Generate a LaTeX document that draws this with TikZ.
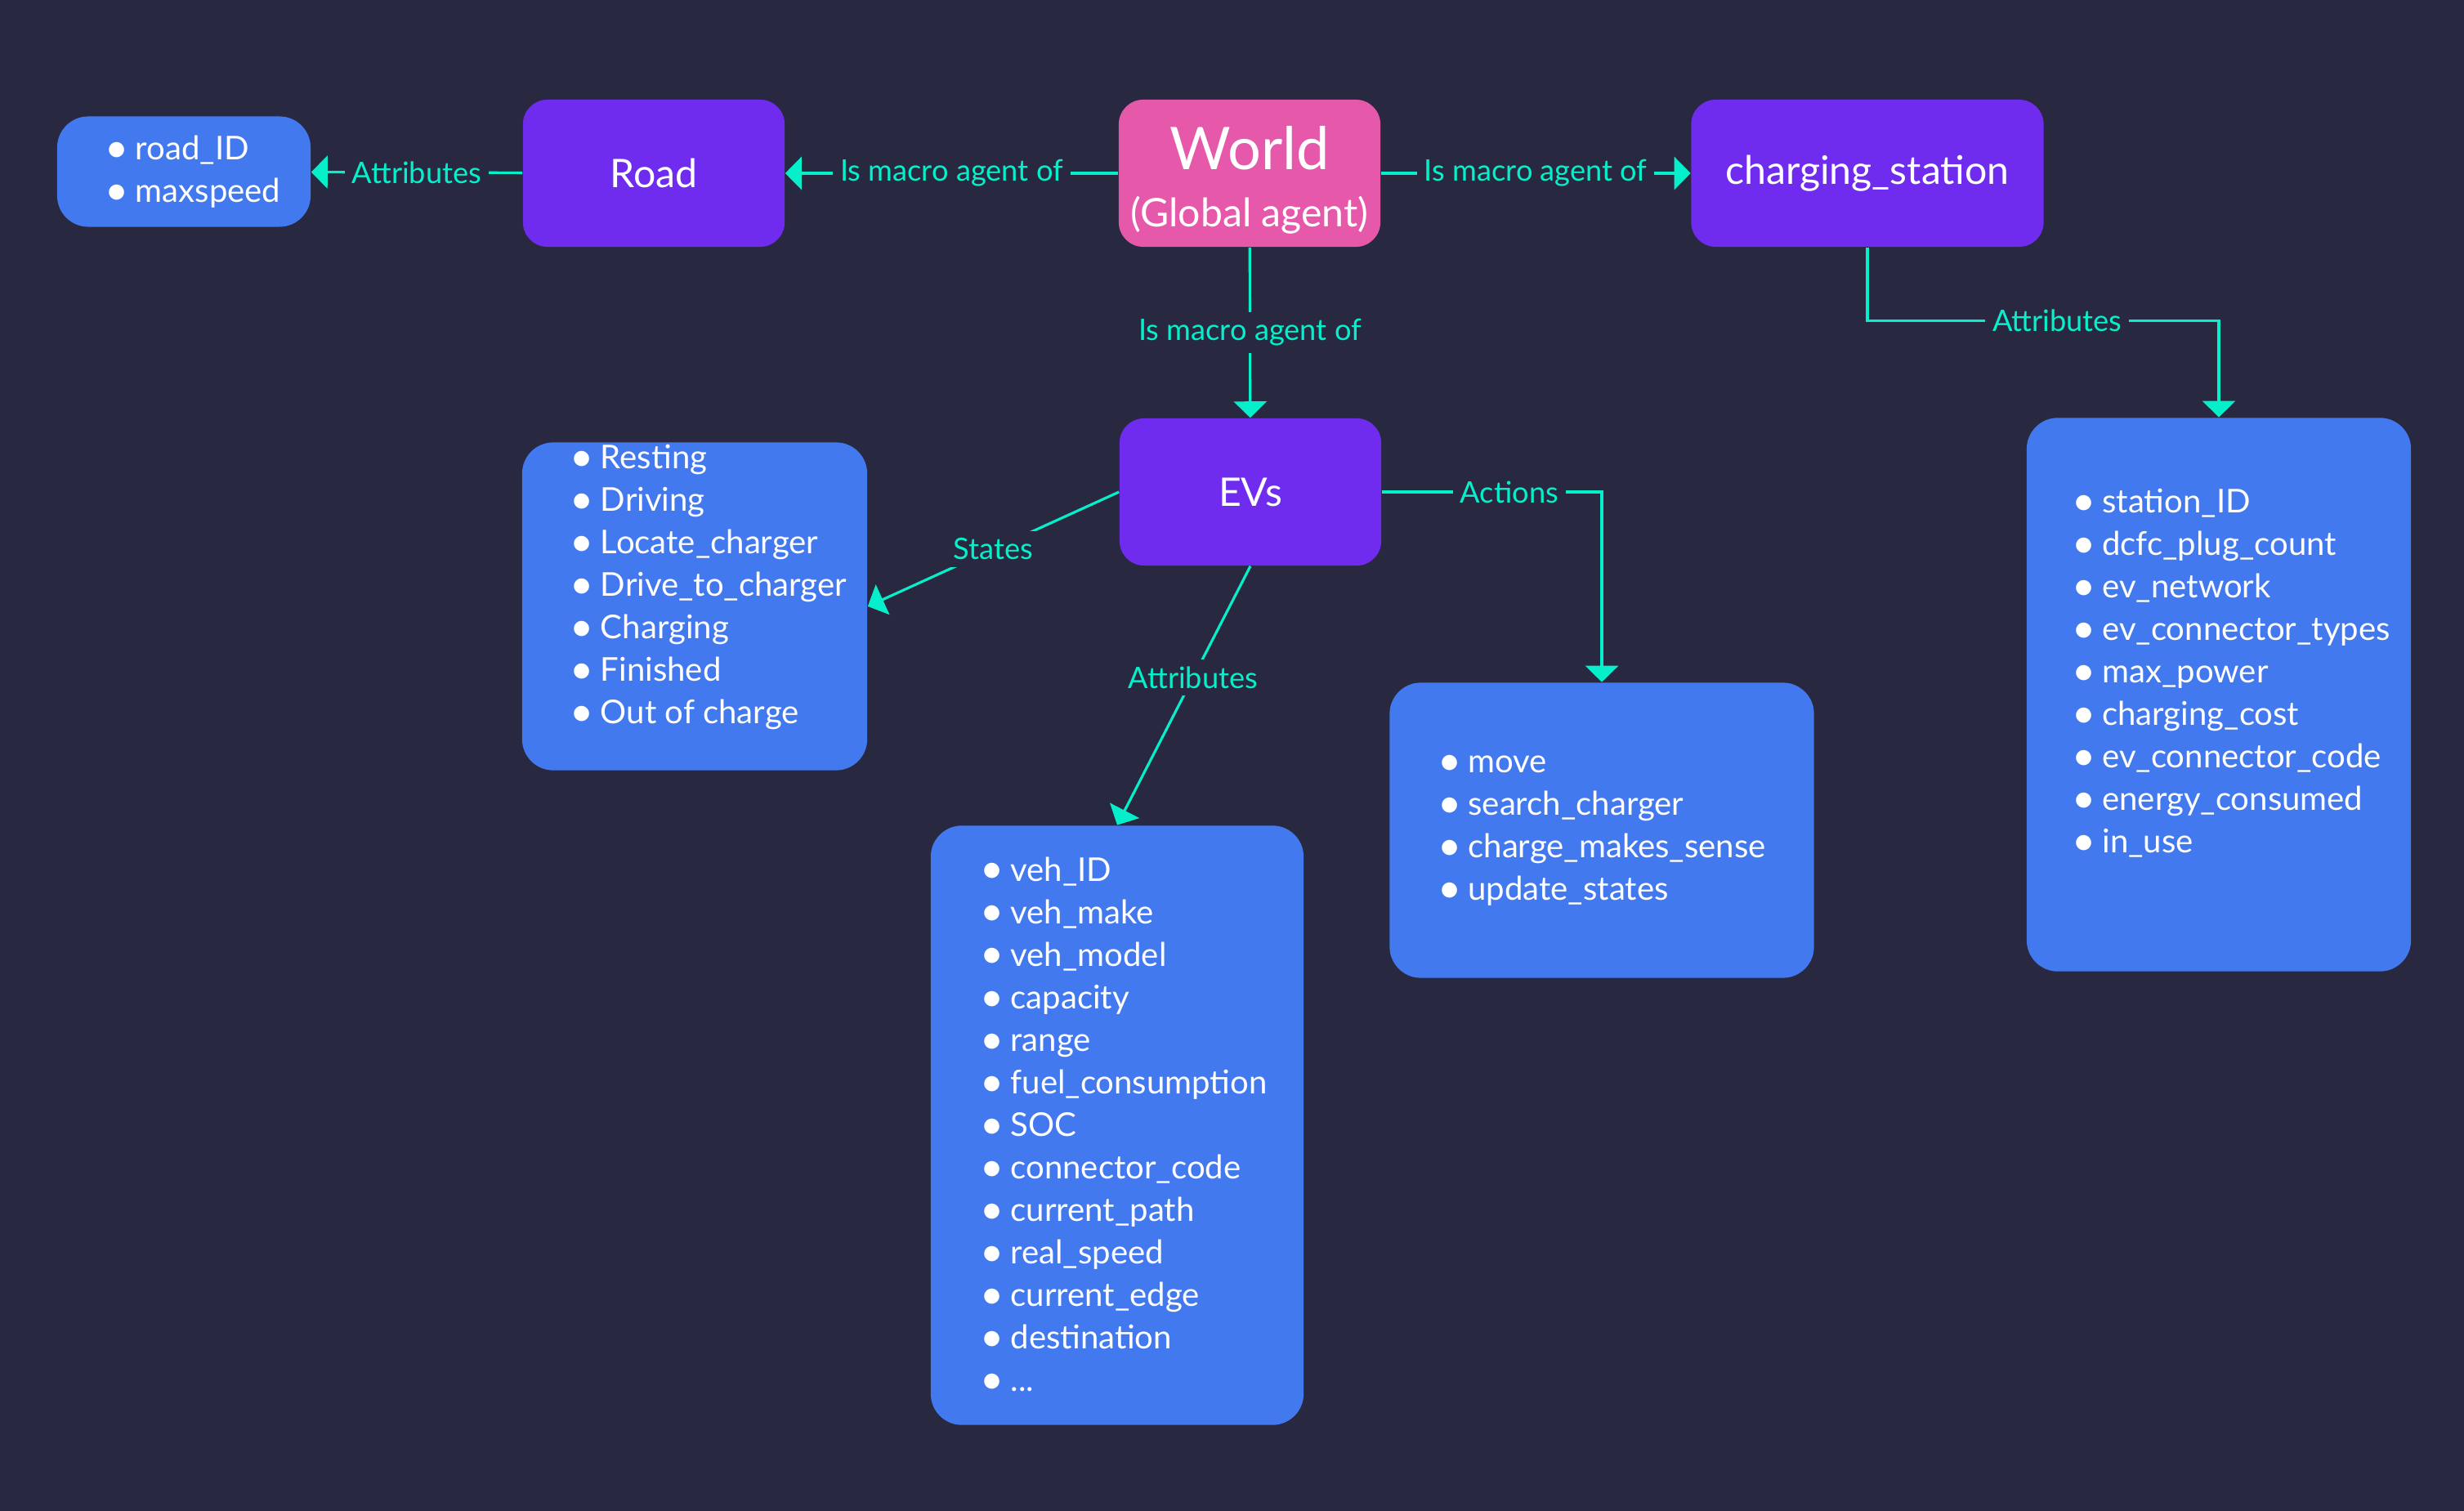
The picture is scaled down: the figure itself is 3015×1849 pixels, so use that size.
\documentclass[tikz,border=0pt]{standalone}
\usepackage{fontspec}
\setmainfont{Lato}
\usepackage{xcolor}
\usetikzlibrary{arrows.meta}

\definecolor{bgnavy}{HTML}{282940}
\definecolor{agentviolet}{HTML}{6F2CEF}
\definecolor{globalpink}{HTML}{E558AA}
\definecolor{listblue}{HTML}{4379EF}
\definecolor{linkteal}{HTML}{05F0CA}

% larger list bullet, with a per-box indent
\newlength{\bulindent}
\newcommand{\bul}{\hspace*{\bulindent}\raisebox{-0.07em}{\scalebox{1.25}{•}}\hspace{0.2em}}

\tikzset{
    agent/.style={rectangle, rounded corners=0.3cm, fill=agentviolet, text=white,
        font=\fontsize{13.7}{20}\selectfont, minimum width=3.2cm, minimum height=1.8cm},
    listindent/.style={execute at begin node={\global\bulindent=#1\relax}},
    listbox/.style={rectangle, rounded corners=0.38cm, fill=listblue, text=white,
        align=left, font=\fontsize{11.4}{14.8}\selectfont, listindent=0pt},
    link/.style={linkteal, line width=0.9pt, -{Triangle[length=2mm, width=4mm]}},
    linklabel/.style={fill=bgnavy, text=linkteal, font=\fontsize{10.3}{12}\selectfont, inner sep=2.5pt},
}

\begin{document}
\begin{tikzpicture}[x=0.01cm, y=-0.01cm]
            \fill[bgnavy] (0,0) rectangle (3015,1849);

            % agents
            \node[agent] at (800,212)   (road) {Road};
            \node[agent, fill=globalpink, align=center] at (1529,212)   (world) {{\fontsize{20.5}{20}\selectfont\rule{0pt}{20pt}World}\\(Global agent)};
            \node[agent, minimum width=4.31cm] at (2285,212)   (station) {charging\_station};
            \node[agent] at (1530,602)   (evs) {EVs};

            % lists
            \node[listbox, listindent=0.22cm, minimum width=3.1cm, minimum height=1.35cm] at (225,210)   (roadattr) {\bul road\_ID\\\bul maxspeed};
            \node[listbox, listindent=0.34cm, minimum width=4.22cm, minimum height=4.01cm, inner ysep=0pt, text depth=0.54cm] at (850,742)   (states) {\bul Resting\\\bul Driving\\\bul Locate\_charger\\\bul Drive\_to\_charger\\\bul Charging\\\bul Finished\\\bul Out of charge};
            \node[listbox, listindent=0.16cm, minimum width=4.56cm, minimum height=7.33cm] at (1367,1377)   (evattr) {\bul veh\_ID\\\bul veh\_make\\\bul veh\_model\\\bul capacity\\\bul range\\\bul fuel\_consumption\\\bul SOC\\\bul connector\_code\\\bul current\_path\\\bul real\_speed\\\bul current\_edge\\\bul destination\\\bul ...};
            \node[listbox, minimum width=5.19cm, minimum height=3.61cm] at (1960,1016)   (actions) {\bul move\\\bul search\_charger\\\bul charge\_makes\_sense\\\bul update\_states};
            \node[listbox, listindent=0.3cm, minimum width=4.7cm, minimum height=6.77cm, text depth=0.58cm] at (2715,850)   (stationattr) {\bul station\_ID\\\bul dcfc\_plug\_count\\\bul ev\_network\\\bul ev\_connector\_types\\\bul max\_power\\\bul charging\_cost\\\bul ev\_connector\_code\\\bul energy\_consumed\\\bul in\_use};

            \draw [link] (road) -- node[linklabel] {Attributes} (roadattr);
            \draw [link] (world) -- node[linklabel] {Is macro agent of} (road);
            \draw [link] (world) -- node[linklabel] {Is macro agent of} (station);
            \draw [link] (world) -- node[linklabel] {Is macro agent of} (evs);
            \draw [link] (evs.west) -- node[linklabel] {States} (states.east);
            \draw [link] (evs.south) -- node[linklabel, pos=0.43] {Attributes} (evattr.north);
            \draw [link] (evs.east) -| node[linklabel, pos=0.29] {Actions} (actions.north);
            \draw [link] (station.south) -- ++(0,90) -| node[linklabel, pos=0.27] {Attributes} (stationattr.north);
        \end{tikzpicture}
\end{document}
